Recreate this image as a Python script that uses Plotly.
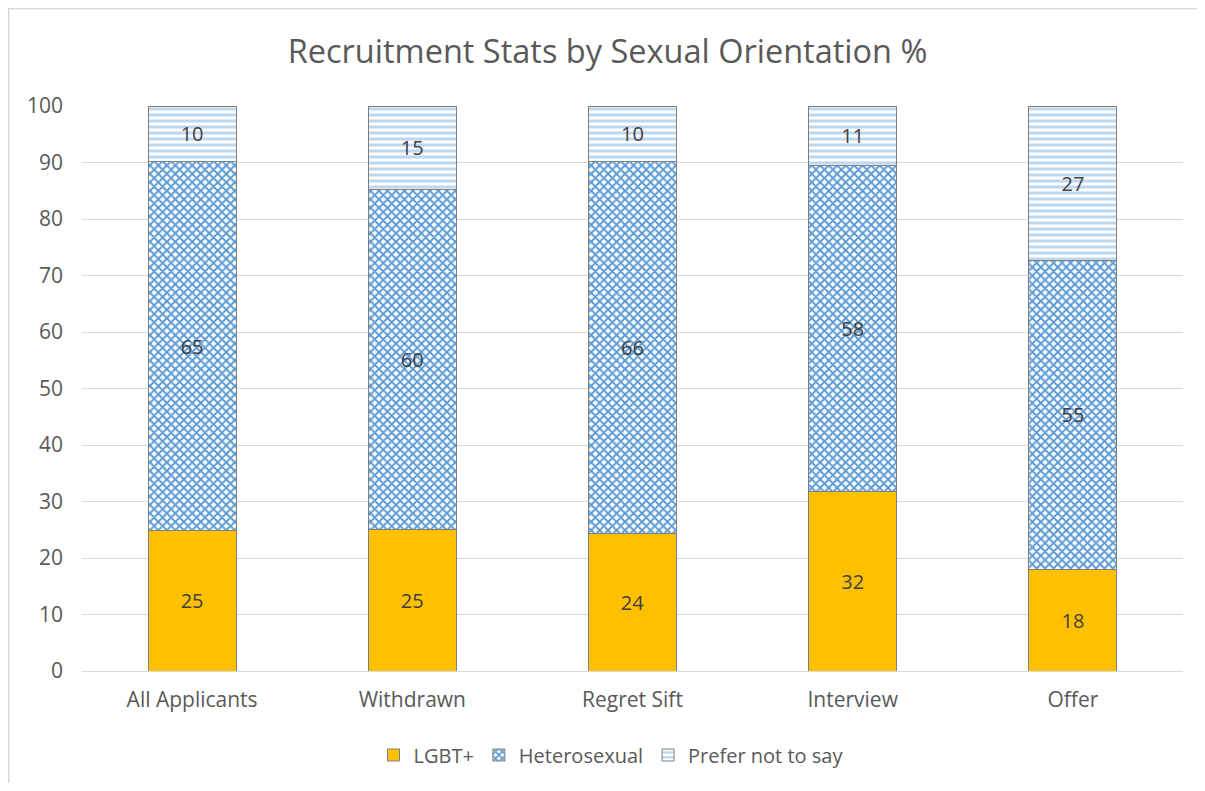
import plotly.graph_objects as go

categories = ["All Applicants", "Withdrawn", "Regret Sift", "Interview", "Offer"]
lgbt = [24.8, 25.0, 24.4, 31.8, 18.0]
hetero = [65.3, 60.2, 65.7, 57.6, 54.7]
prefer = [9.9, 14.8, 9.9, 10.6, 27.3]
y_ticks = [0, 10, 20, 30, 40, 50, 60, 70, 80, 90, 100]

FONT = "'Open Sans', Lato, sans-serif"
TXT = "#595959"

W, H = 1189, 775
L, T = 74, 98
PW, PH = 1101, 565
R = W - L - PW
B = H - T - PH


def px(x):
    return (x - L) / PW


def py(y):
    return (T + PH - y) / PH


fig = go.Figure()
common_text = dict(texttemplate="%{y:.0f}", textposition="inside", insidetextanchor="middle",
                   textangle=0, constraintext="none",
                   textfont=dict(color="#404040", size=20, family=FONT))
fig.add_trace(go.Bar(
    name="LGBT+", x=categories, y=lgbt,
    marker=dict(color="#FFC000", line=dict(color="#7F7F7F", width=1)),
    **common_text,
))
fig.add_trace(go.Bar(
    name="Heterosexual", x=categories, y=hetero,
    marker=dict(color="white", line=dict(color="#7F7F7F", width=1),
                pattern=dict(shape="x", fgcolor="#5B9BD5", bgcolor="white", size=6,
                             solidity=0.55, fillmode="replace")),
    **common_text,
))
fig.add_trace(go.Bar(
    name="Prefer not to say", x=categories, y=prefer,
    marker=dict(color="white", line=dict(color="#7F7F7F", width=1),
                pattern=dict(shape="-", fgcolor="#BDD7EE", bgcolor="white", size=6,
                             solidity=0.5, fillmode="replace")),
    **common_text,
))

fig.update_layout(
    barmode="stack",
    bargap=0.6,
    width=W, height=H,
    margin=dict(l=L, r=R, t=T, b=B, autoexpand=False),
    paper_bgcolor="white", plot_bgcolor="white",
    font=dict(family=FONT, color=TXT, size=20),
    title=dict(text="Recruitment Stats by Sexual Orientation %", x=599.5 / W, xanchor="center",
               y=1 - 44 / H, yanchor="middle", font=dict(size=32.5, color=TXT, family=FONT)),
    legend=dict(orientation="h", x=px(603), xanchor="center", y=py(747), yanchor="middle",
                font=dict(size=20, color=TXT, family=FONT), traceorder="normal"),
    yaxis=dict(range=[0, 100], tickvals=y_ticks, showgrid=True, gridcolor="#D9D9D9",
               gridwidth=1, zeroline=False, showline=False, ticks="", automargin=False,
               tickfont=dict(size=21, color=TXT), ticklabelstandoff=18),
    xaxis=dict(showline=True, linecolor="#D9D9D9", linewidth=1, ticks="", automargin=False,
               tickfont=dict(size=21, color=TXT), ticklabelstandoff=10),
    shapes=[
        dict(type="line", xref="paper", yref="paper", x0=px(0.75), x1=px(0.75), y0=py(H), y1=py(0),
             line=dict(color="#D9D9D9", width=1.5), layer="below"),
        dict(type="line", xref="paper", yref="paper", x0=px(0), x1=px(W), y0=py(0.75), y1=py(0.75),
             line=dict(color="#D9D9D9", width=1.5), layer="below"),
    ],
)

fig.write_html("out.html")
